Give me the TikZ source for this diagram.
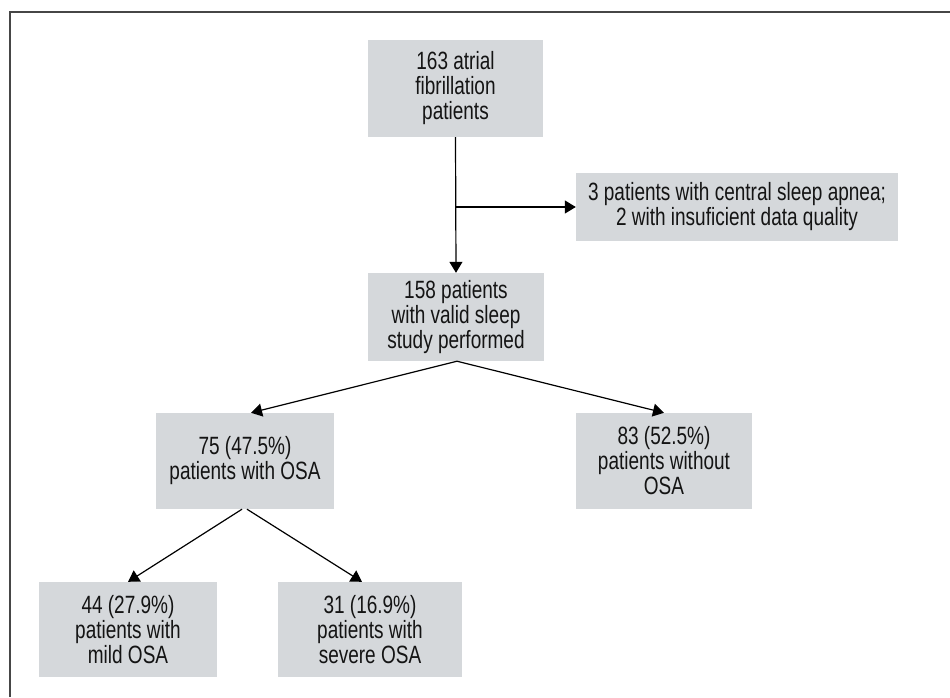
\documentclass[tikz,border=0pt]{standalone}
\usepackage{fontspec}
\setmainfont{Liberation Sans}[FakeStretch=0.76]
\usetikzlibrary{arrows.meta,calc}
\definecolor{boxfill}{RGB}{213,216,219}
\definecolor{txt}{RGB}{20,20,20}
\definecolor{framec}{RGB}{70,70,70}
\begin{document}
\begin{tikzpicture}[x=1pt,y=-1pt,
  flowbox/.style={fill=boxfill, draw=none, align=center, text=txt, inner sep=0pt,
    font=\fontsize{25}{25}\selectfont},
  arr/.style={draw=black, line width=1.2pt, -{Triangle[length=11pt,width=13pt]}},
  ln/.style={draw=black, line width=1.2pt}]
\useasboundingbox (0,0) rectangle (950,697);
\fill[white] (0,0) rectangle (950,697);
\draw[framec, line width=2pt] (10,697) -- (10,12) -- (950,12);

\node[flowbox, minimum width=175pt, minimum height=97pt] (n1) at (455.5,88.5) {163 atrial\\fibrillation\\patients};
\node[flowbox, minimum width=322pt, minimum height=68pt] (side) at (737,207) {3 patients with central sleep apnea;\\2 with insuficient data quality};
\node[flowbox, minimum width=176pt, minimum height=88pt] (n158) at (456,317) {158 patients\\with valid sleep\\study performed};
\node[flowbox, minimum width=178pt, minimum height=96pt] (n75) at (245,461) {75 (47.5\%)\\patients with OSA};
\node[flowbox, minimum width=176pt, minimum height=96pt] (n83) at (664,461) {83 (52.5\%)\\patients without\\OSA};
\node[flowbox, minimum width=178pt, minimum height=95pt] (n44) at (128,629.5) {44 (27.9\%)\\patients with\\mild OSA};
\node[flowbox, minimum width=184pt, minimum height=95pt] (n31) at (370,629.5) {31 (16.9\%)\\patients with\\severe OSA};

\coordinate (br) at (n1.south |- side.west);
\draw[arr] (n1.south) -- (n158.north);
\draw[arr] (br) -- (side.west);
\draw[arr] ([xshift=1pt]n158.south) -- ([xshift=6pt]n75.north);
\draw[arr] ([xshift=1pt]n158.south) -- (n83.north);
\draw[arr] ([xshift=-3pt]n75.south) -- (n44.north);
\draw[arr] ([xshift=2pt]n75.south) -- ([xshift=-8pt]n31.north);
\end{tikzpicture}
\end{document}
